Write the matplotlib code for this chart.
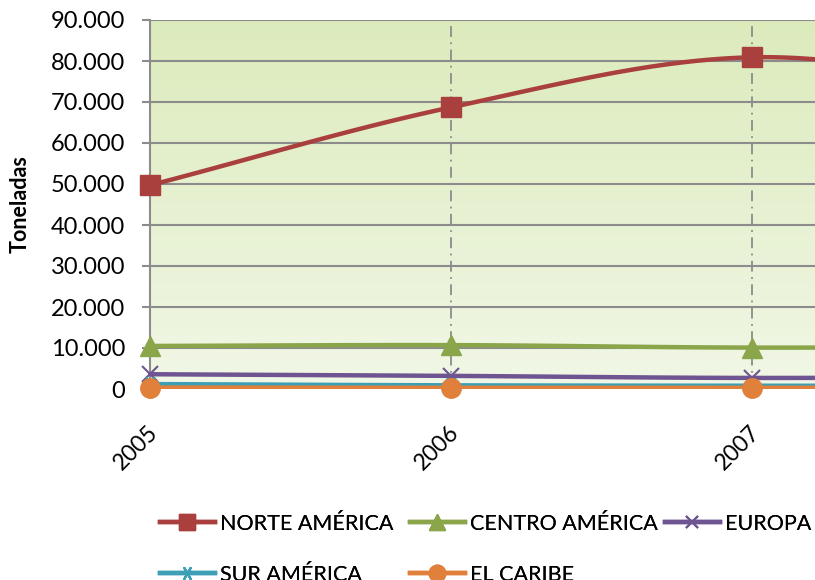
import matplotlib
matplotlib.use("Agg")
import matplotlib.pyplot as plt
import matplotlib.transforms as mtransforms
import numpy as np
from matplotlib.ticker import FuncFormatter, MultipleLocator

# data (toneladas)
years = ["2005", "2006", "2007", "2008"]
norte_america = [49700, 68700, 80900, 72000]
centro_america = [10500, 10700, 10100, 10400]
europa = [3600, 3200, 2700, 3000]
sur_america = [1200, 900, 800, 800]
el_caribe = [350, 300, 300, 300]

plt.rcParams['font.family'] = ['Lato', 'DejaVu Sans']


def smooth(xs, ys, n=40):
    """Catmull-Rom style smoothing similar to spreadsheet smoothed lines"""
    xs = np.asarray(xs, float)
    ys = np.asarray(ys, float)
    px = np.concatenate([[2 * xs[0] - xs[1]], xs, [2 * xs[-1] - xs[-2]]])
    py = np.concatenate([[2 * ys[0] - ys[1]], ys, [2 * ys[-1] - ys[-2]]])
    out_x, out_y = [], []
    t = np.linspace(0, 1, n)
    for i in range(1, len(px) - 2):
        p0, p1, p2, p3 = px[i - 1:i + 3]
        q0, q1, q2, q3 = py[i - 1:i + 3]
        bx = [p1, p1 + (p2 - p0) / 6, p2 - (p3 - p1) / 6, p2]
        by = [q1, q1 + (q2 - q0) / 6, q2 - (q3 - q1) / 6, q2]
        cx = ((1 - t) ** 3 * bx[0] + 3 * (1 - t) ** 2 * t * bx[1]
              + 3 * (1 - t) * t ** 2 * bx[2] + t ** 3 * bx[3])
        cy = ((1 - t) ** 3 * by[0] + 3 * (1 - t) ** 2 * t * by[1]
              + 3 * (1 - t) * t ** 2 * by[2] + t ** 3 * by[3])
        out_x.extend(cx)
        out_y.extend(cy)
    return out_x, out_y


series = [
    ("NORTE AMÉRICA", norte_america, "#a9403e", "s", 14, 1),
    ("CENTRO AMÉRICA", centro_america, "#8aa54a", "^", 14, 1),
    ("EUROPA", europa, "#6e5491", "x", 11, 1.5),
    ("SUR AMÉRICA", sur_america, "#3d9fb6", (6, 2, 90), 12, 1.5),
    ("EL CARIBE", el_caribe, "#e0803a", "o", 14, 1),
]

fig = plt.figure(figsize=(8.15, 5.8), dpi=100)
W, H = 815, 580
left, right, top, bottom = 150, 150 + 3 * 301, 20, 389
ax = fig.add_axes([left / W, 1 - bottom / H, (right - left) / W, (bottom - top) / H])

x = np.arange(len(years))
ax.set_xlim(0, len(years) - 1)
ax.set_ylim(0, 90000)

# gradient background
grad = np.linspace(0, 1, 256).reshape(-1, 1)
top_c = np.array([220, 235, 188]) / 255
bot_c = np.array([241, 247, 230]) / 255
img = top_c * (1 - grad[..., None]) + bot_c * grad[..., None]
img = np.repeat(img, 2, axis=1)
ax.imshow(img, extent=[0, len(years) - 1, 0, 90000], aspect='auto', zorder=0, origin='upper')

ax.yaxis.set_major_locator(MultipleLocator(10000))
ax.yaxis.set_major_formatter(FuncFormatter(lambda v, p: f"{int(v):,}".replace(",", ".")))
ax.grid(axis='y', color='#8c8c8c', linewidth=1.5, zorder=1)
for xi in x[1:]:
    ax.axvline(xi, color='#8c8c8c', linewidth=1.3, linestyle=(0, (6, 3, 1, 3)), zorder=1)

for name, vals, color, marker, ms, mew in series:
    sx, sy = smooth(x, vals)
    ax.plot(sx, sy, color=color, linewidth=3.2, zorder=3, solid_capstyle='round')
    ax.plot(x, vals, linestyle='none', marker=marker, markersize=ms, color=color,
            markeredgecolor=color, markeredgewidth=mew, zorder=4, clip_on=False)

# legend proxies
handles = []
for name, vals, color, marker, ms, mew in series:
    h, = ax.plot([], [], color=color, linewidth=3.2, marker=marker, markersize=ms * 0.85,
                 markeredgecolor=color, markeredgewidth=mew, label=name)
    handles.append(h)

# legend laid out in columns like the spreadsheet legend
columns = [([0, 3], 160), ([1, 4], 410), ([2], 665)]
for idx, xpos in columns:
    leg = fig.legend([handles[i] for i in idx], [handles[i].get_label() for i in idx],
                     loc='upper left', bbox_to_anchor=(xpos / W, 1 - 514 / H),
                     frameon=False, fontsize=15.5, handlelength=2.55, handletextpad=0.25,
                     labelspacing=1.42, borderaxespad=0, borderpad=0)
    fig.add_artist(leg)

for s in ['top', 'right', 'bottom']:
    ax.spines[s].set_visible(False)
ax.spines['left'].set_color('#8c8c8c')
ax.spines['left'].set_linewidth(1.5)
ax.spines['left'].set_zorder(2)

ax.set_xticks(x)
ax.set_xticklabels(years, rotation=45, ha='right', va='center', rotation_mode='anchor')
ax.tick_params(axis='x', length=0, pad=29, labelsize=16.5)
shift = mtransforms.ScaledTranslation(5 / 100, 0, fig.dpi_scale_trans)
for lab in ax.get_xticklabels():
    lab.set_transform(lab.get_transform() + shift)
ax.tick_params(axis='y', length=6, color='#8c8c8c', width=1.5, labelsize=17, pad=12)
ax.set_ylabel("Toneladas", fontsize=15.5, fontweight='bold', va='center')
ax.yaxis.set_label_coords((20 - left) / (right - left), 0.5)

fig.savefig("out.png", dpi=100)
